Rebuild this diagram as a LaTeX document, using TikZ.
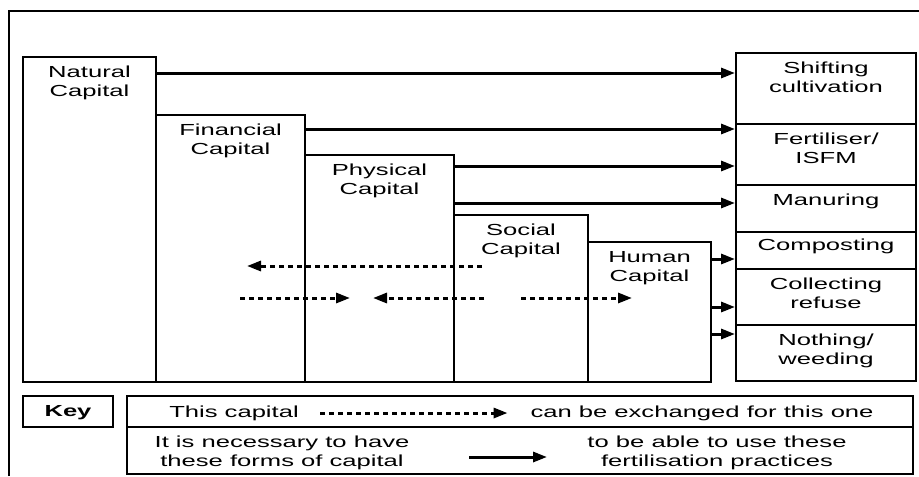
\documentclass[tikz,border=0pt]{standalone}
\usepackage{fontspec}
\setmainfont{Liberation Sans}[FakeStretch=1.6]
\usetikzlibrary{positioning,fit,arrows.meta}

\tikzset{
  box/.style={draw,line width=1.5pt,inner sep=0pt},
  lbl/.style={align=center,inner sep=0pt,font=\fontsize{12pt}{14.25pt}\selectfont},
  need/.style={line width=2.25pt,-{Triangle[length=10.5pt,width=7.5pt]}},
  swap/.style={need,dash pattern=on 3.75pt off 3pt}
}

\begin{document}
\begin{tikzpicture}[x=0.75pt,y=-0.75pt]
		\useasboundingbox (0,0) rectangle (919,476);
		\draw[line width=1pt] (9,476) -- (9,11) -- (919,11);
		% forms of capital
		\node[box,fit={(23,57) (156,382)}] (natural) {};
		\node[box,fit={(156,115) (305,382)}] (financial) {};
		\node[box,fit={(305,155) (454,382)}] (physical) {};
		\node[box,fit={(454,215) (588,382)}] (social) {};
		\node[box,fit={(588,242) (711,382)}] (human) {};
		\node[lbl,below=7.5pt of natural.north] (naturaltxt) {Natural\\Capital};
		\node[lbl,below=7.5pt of financial.north] (financialtxt) {Financial\\Capital};
		\node[lbl,below=7.5pt of physical.north] (physicaltxt) {Physical\\Capital};
		\node[lbl,below=7.5pt of social.north] (socialtxt) {Social\\Capital};
		\node[lbl,below=7.5pt of human.north] (humantxt) {Human\\Capital};
		% fertilisation practices
		\node[box,fit={(736,53) (916,124)}] (shift) {};
		\node[box,fit={(736,124) (916,185)}] (fert) {};
		\node[box,fit={(736,185) (916,232)}] (manure) {};
		\node[box,fit={(736,232) (916,269)}] (compost) {};
		\node[box,fit={(736,269) (916,325)}] (refuse) {};
		\node[box,fit={(736,325) (916,381)}] (nothing) {};
		\node[lbl,below=7.5pt of shift.north] (shifttxt) {Shifting\\cultivation};
		\node[lbl,below=7pt of fert.north] (ferttxt) {Fertiliser/\\ISFM};
		\node[lbl,below=7.5pt of manure.north] (manuretxt) {Manuring};
		\node[lbl,below=6pt of compost.north] (composttxt) {Composting};
		\node[lbl,below=7.5pt of refuse.north] (refusetxt) {Collecting\\refuse};
		\node[lbl,below=7.5pt of nothing.north] (nothingtxt) {Nothing/\\weeding};
		% capital needed for each practice
		\draw[need] (natural.east |- 0,73) -- (shift.west |- 0,73);
		\draw[need] (financial.east |- 0,129) -- (fert.west |- 0,129);
		\draw[need] (physical.east |- 0,166) -- (fert.west |- 0,166);
		\draw[need] (physical.east |- 0,203) -- (manure.west |- 0,203);
		\draw[need] (human.east |- 0,259) -- (compost.west |- 0,259);
		\draw[need] (human.east |- 0,307) -- (refuse.west |- 0,307);
		\draw[need] (human.east |- 0,334) -- (nothing.west |- 0,334);
		% exchanges between capitals
		\coordinate (soc-a) at (482,266);
		\coordinate (fin-a) at (247,266);
		\coordinate (fin-b) at (240,298);
		\coordinate (phy-b) at (350,298);
		\coordinate (soc-b) at (484,298);
		\coordinate (phy-c) at (373,298);
		\coordinate (soc-c) at (521,298);
		\coordinate (hum-c) at (632,298);
		\draw[swap] (soc-a) -- (fin-a);
		\draw[swap] (fin-b) -- (phy-b);
		\draw[swap] (soc-b) -- (phy-c);
		\draw[swap] (soc-c) -- (hum-c);
		% key
		\node[box,fit={(23,396) (113,427)}] (key) {};
		\node[box,fit={(127,396) (913,427)}] (keyswap) {};
		\node[box,fit={(127,427) (913,474)}] (keyneed) {};
		\node[lbl,font=\fontsize{12pt}{14.25pt}\selectfont\bfseries] (keytxt) at (68,413) {Key};
		\node[lbl] (thiscap) at (234,413) {This capital};
		\node[lbl] (exchtxt) at (702,413) {can be exchanged for this one};
		\node[lbl] (havetxt) at (282,453) {It is necessary to have\\these forms of capital};
		\node[lbl] (usetxt) at (717,453) {to be able to use these\\fertilisation practices};
		\coordinate (need-a) at (469,457);
		\coordinate (need-b) at (547,457);
		\draw[swap] ([xshift=16pt]thiscap.east) -- ([xshift=-17pt]exchtxt.west);
		\draw[need] (need-a) -- (need-b);
	\end{tikzpicture}
\end{document}
